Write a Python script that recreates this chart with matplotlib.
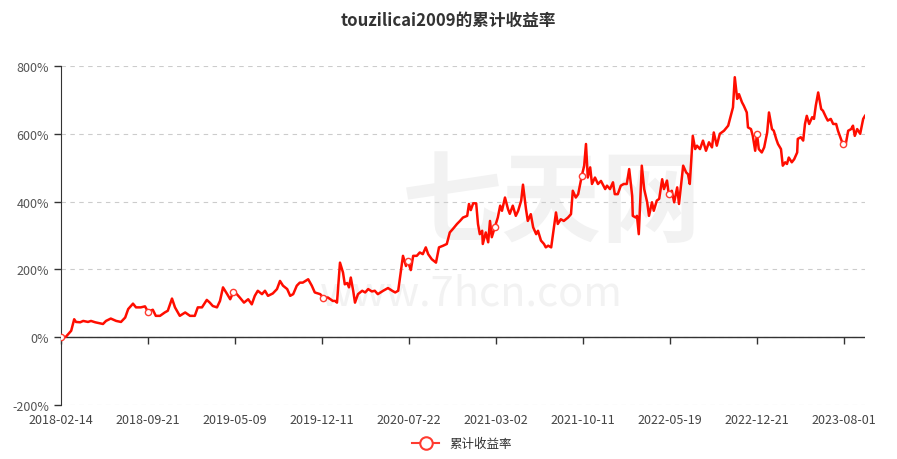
import numpy as np
import matplotlib.pyplot as plt
from matplotlib.lines import Line2D

plt.rcParams['font.family'] = ['Noto Sans CJK SC', 'DejaVu Sans']

# trading-day number of each sample (category position on the x axis)
day_no = [0, 8, 17, 22, 25, 32, 37, 45, 50, 57, 62, 70, 75, 83, 92, 100, 107, 112, 120, 125,
          133, 140, 145, 153, 158, 165, 173, 178, 185, 190, 198, 207, 215, 223,
          228, 235, 243, 248, 253, 260, 265, 270, 277, 282, 287, 293, 298, 305, 312, 318,
          323, 328, 335, 340, 345, 353, 360, 365, 370, 377, 382, 387, 393, 398, 403, 412,
          418, 423, 432, 437, 445, 453,
          457, 460, 465, 470, 473, 477, 480, 483, 487, 490, 495, 502, 507, 512, 518, 523,
          528, 537, 545, 552, 557, 562, 567, 570, 575, 578, 583, 587, 593, 598, 603, 608,
          612, 618, 625, 630, 637, 643, 648, 653, 660, 665, 670, 677, 680,
          683, 687, 692, 695, 698, 702, 703, 708, 712, 715, 718, 723, 728, 732, 735, 740,
          745, 748, 753, 758, 762, 767, 770, 775, 778, 783, 787, 792, 795, 800, 805, 808,
          812, 817, 820, 825, 828, 833, 838, 845, 850, 853, 858, 862, 868, 872, 875, 878,
          882, 885, 890, 895, 900,
          907, 910, 915, 920, 923, 928, 933, 938, 943, 947, 952, 953, 958, 960, 963, 968,
          972, 977, 980, 985, 988, 993, 997, 1002, 1005, 1010, 1013, 1018, 1022, 1027, 1030,
          1037, 1042, 1045, 1048, 1053, 1057, 1060, 1065, 1070, 1075, 1080, 1085, 1088, 1093,
          1098, 1105, 1112,
          1115, 1120, 1123, 1127, 1130, 1135, 1138, 1143, 1145, 1150, 1153, 1157, 1160, 1163,
          1168, 1172, 1177, 1180, 1185, 1188, 1192, 1195, 1200, 1203, 1207, 1210, 1213, 1218,
          1222, 1227, 1228, 1233, 1237, 1240, 1243, 1247, 1252, 1255, 1258, 1262, 1267, 1270,
          1275, 1278, 1283, 1287, 1292, 1295, 1300, 1303, 1308, 1312, 1317, 1320, 1323, 1327,
          1332, 1337, 1340]

# cumulative return, %
cum_return = [0, 1, 19, 53, 45, 44, 48, 45, 48, 44, 42, 39, 48, 55, 48, 45, 58, 83, 99, 88,
              88, 91, 75, 81, 63, 63, 73, 78, 114, 88, 63, 73, 63, 63,
              88, 88, 110, 102, 92, 88, 107, 147, 127, 112, 132, 127, 117, 102, 112, 97,
              122, 137, 127, 137, 122, 129, 142, 166, 152, 142, 122, 127, 152, 161, 161, 171,
              152, 132, 127, 117, 117, 107,
              107, 102, 220, 191, 156, 160, 147, 176, 137, 102, 127, 137, 132, 142, 135, 137,
              127, 137, 145, 137, 132, 137, 201, 240, 210, 225, 198, 240, 240, 250, 245, 265,
              245, 230, 220, 265, 270, 275, 309, 319, 334, 343, 353, 358, 393,
              375, 395, 395, 334, 304, 314, 275, 309, 280, 343, 295, 324, 353, 388, 373, 412,
              378, 364, 388, 358, 373, 403, 450, 378, 343, 363, 324, 304, 314, 285, 275, 265,
              270, 265, 304, 368, 334, 348, 343, 353, 363, 432, 412, 422, 476, 506, 570, 471,
              501, 452, 471, 452, 461,
              437, 447, 437, 457, 422, 422, 447, 452, 452, 496, 417, 358, 353, 358, 304, 506,
              437, 398, 358, 398, 373, 403, 408, 466, 437, 462, 422, 432, 398, 442, 393,
              506, 486, 481, 452, 594, 555, 565, 555, 580, 550, 575, 560, 604, 565,
              600, 609, 624,
              644, 678, 767, 703, 717, 693, 683, 663, 619, 614, 594, 550, 600, 555,
              545, 560, 604, 663, 614, 609, 585, 570, 555, 506, 516, 511, 530, 516,
              525, 545, 585, 590, 580, 629, 653, 629, 649, 644, 683, 722, 673, 668,
              649, 639, 644, 629, 629, 609, 585, 570, 570, 609, 614, 624, 594, 614,
              600, 644, 653]

tick_dates = ['2018-02-14', '2018-09-21', '2019-05-09', '2019-12-11', '2020-07-22',
              '2021-03-02', '2021-10-11', '2022-05-19', '2022-12-21', '2023-08-01']
tick_step = 145
tick_pos = np.arange(len(tick_dates)) * tick_step

fig = plt.figure(figsize=(8.97, 4.6), dpi=100)
ax = fig.add_axes([0.068, 0.1174, 0.8963, 0.7369])

# watermark
ax.text(0.61, 0.595, '七天网', transform=ax.transAxes, fontsize=72, color='#f2f2f2',
        ha='center', va='center', fontweight='bold', zorder=0)
ax.text(0.51, 0.33, 'www.7hcn.com', transform=ax.transAxes, fontsize=30, color='#f2f2f2',
        ha='center', va='center', zorder=0)

days = np.array(day_no)
mark_idx = [int(np.argmin(np.abs(days - p))) for p in tick_pos]
ax.plot(day_no, cum_return, color='#ff0d00', lw=1.8, zorder=3,
        marker='o', markevery=mark_idx, markersize=4.5, markerfacecolor='white',
        markeredgecolor='#ff3b30', markeredgewidth=1)

ax.set_xlim(0, day_no[-1])
ax.set_ylim(-200, 800)
ax.set_yticks(np.arange(-200, 801, 200))
ax.set_yticklabels([f'{v}%' for v in range(-200, 801, 200)])
ax.yaxis.grid(True, ls=(0, (4, 4)), color='#cccccc', lw=0.8)
ax.set_axisbelow(True)

# solid zero line
ax.axhline(0, color='#333333', lw=1, zorder=2.5)

for s in ['top', 'right', 'bottom']:
    ax.spines[s].set_visible(False)
ax.spines['left'].set_color('#333333')
ax.tick_params(axis='y', colors='#333333', labelcolor='#555555', labelsize=9,
               length=5, width=1, direction='out')

ax.set_xticks(tick_pos)
ax.set_xticklabels(tick_dates)
ax.tick_params(axis='x', length=0, labelsize=9, labelcolor='#444444', pad=6)

# ticks under the zero line
sec = ax.secondary_xaxis(0.2)
sec.set_xticks(tick_pos)
sec.set_xticklabels([])
sec.spines['bottom'].set_visible(False)
sec.tick_params(axis='x', length=5, width=1, color='#333333', direction='out')

fig.suptitle('touzilicai2009的累计收益率', x=0.5, y=0.975, fontsize=12,
             fontweight='bold', color='#333333')

handle = Line2D([], [], color='#ff3b30', lw=1.5, marker='o', markersize=9,
                markerfacecolor='white', markeredgecolor='#ff3b30', markeredgewidth=1.5)
fig.legend([handle], ['累计收益率'], loc='center', bbox_to_anchor=(0.515, 0.033),
           frameon=False, fontsize=9, handlelength=2.2, labelcolor='#333333')

fig.savefig('out.png', dpi=100)
